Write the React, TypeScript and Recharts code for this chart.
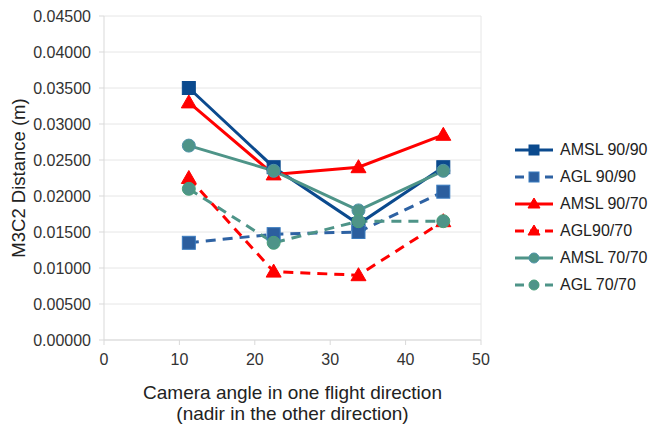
import React from 'react';
import { LineChart, Line, XAxis, YAxis, CartesianGrid, ReferenceLine, Label } from 'recharts';

document.body.style.margin = '0';

const angles = [11.25, 22.5, 33.75, 45];
const amsl9090 = [0.035, 0.024, 0.0161, 0.024];
const agl9090 = [0.0135, 0.0147, 0.015, 0.0206];
const amsl9070 = [0.033, 0.023, 0.024, 0.0285];
const agl9070 = [0.0225, 0.0095, 0.009, 0.0165];
const amsl7070 = [0.027, 0.0235, 0.018, 0.0235];
const agl7070 = [0.021, 0.0135, 0.0165, 0.0165];

const xTicks = [0, 10, 20, 30, 40, 50];
const yTicks = [0, 0.005, 0.01, 0.015, 0.02, 0.025, 0.03, 0.035, 0.04, 0.045];

const data = angles.map((x, i) => ({
  x,
  amsl9090: amsl9090[i],
  agl9090: agl9090[i],
  amsl9070: amsl9070[i],
  agl9070: agl9070[i],
  amsl7070: amsl7070[i],
  agl7070: agl7070[i],
}));

type Shape = 'square' | 'triangle' | 'circle';

interface SeriesDef {
  key: string;
  name: string;
  color: string;
  fill: string;
  edge: string;
  dashed: boolean;
  shape: Shape;
}

const series: SeriesDef[] = [
  { key: 'amsl9090', name: 'AMSL 90/90', color: '#0B4A8E', fill: '#0B4A8E', edge: '#0B4A8E', dashed: false, shape: 'square' },
  { key: 'agl9090', name: 'AGL 90/90', color: '#2E62A3', fill: '#2B5E9E', edge: '#3A7CC0', dashed: true, shape: 'square' },
  { key: 'amsl9070', name: 'AMSL 90/70', color: '#FF0000', fill: '#FF0000', edge: '#FF0000', dashed: false, shape: 'triangle' },
  { key: 'agl9070', name: 'AGL90/70', color: '#FF0000', fill: '#FF0000', edge: '#FF0000', dashed: true, shape: 'triangle' },
  { key: 'amsl7070', name: 'AMSL 70/70', color: '#4E9488', fill: '#4E9488', edge: '#4F93A8', dashed: false, shape: 'circle' },
  { key: 'agl7070', name: 'AGL 70/70', color: '#4E9488', fill: '#4E9488', edge: '#4AA07A', dashed: true, shape: 'circle' },
];

const Marker = ({ cx, cy, s, size }: { cx: number; cy: number; s: SeriesDef; size: number }) => {
  const h = size / 2;
  if (s.shape === 'square') {
    return <rect x={cx - h} y={cy - h} width={size} height={size} fill={s.fill} stroke={s.edge} strokeWidth={1} />;
  }
  if (s.shape === 'triangle') {
    const pts = `${cx},${cy - h - 1} ${cx + h + 1},${cy + h - 1} ${cx - h - 1},${cy + h - 1}`;
    return <polygon points={pts} fill={s.fill} stroke={s.edge} strokeWidth={1} />;
  }
  return <circle cx={cx} cy={cy} r={h} fill={s.fill} stroke={s.edge} strokeWidth={1} />;
};

const font = '"Liberation Sans", Arial, sans-serif';

const XTitle = (props: any) => {
  const vb = props.viewBox;
  const cx = vb.x + vb.width / 2;
  return (
    <text x={cx} y={vb.y + 59} textAnchor="middle" fontSize={19} fill="#222" fontFamily={font}>
      <tspan x={cx}>Camera angle in one flight direction</tspan>
      <tspan x={cx} dy={21}>(nadir in the other direction)</tspan>
    </text>
  );
};

const YTitle = (props: any) => {
  const vb = props.viewBox;
  const cy = vb.y + vb.height / 2;
  return (
    <text
      x={18}
      y={cy}
      transform={`rotate(-90, 18, ${cy})`}
      textAnchor="middle"
      dominantBaseline="central"
      fontSize={18.5}
      fill="#222"
      fontFamily={font}
    >
      M3C2 Distance (m)
    </text>
  );
};

const LegendBox = () => (
  <div style={{ position: 'absolute', left: 513, top: 136, fontFamily: font, fontSize: 16, color: '#222' }}>
    {series.map((s) => (
      <div key={s.key} style={{ display: 'flex', alignItems: 'center', height: 27 }}>
        <svg width={42} height={16} style={{ marginRight: 5 }}>
          <line x1={2} y1={8} x2={40} y2={8} stroke={s.color} strokeWidth={3} strokeDasharray={s.dashed ? '9 6' : undefined} />
          <Marker cx={21} cy={8} s={s} size={10} />
        </svg>
        <span>{s.name}</span>
      </div>
    ))}
  </div>
);

export default function App() {
  return (
    <div style={{ position: 'relative', width: 650, height: 428, background: '#fff' }}>
      <LineChart width={650} height={428} data={data} margin={{ top: 16, right: 169, bottom: 58, left: 0 }}>
        <CartesianGrid vertical={false} stroke="#e6e6e6" />
        <ReferenceLine x={50} stroke="#e6e6e6" />
        <XAxis
          dataKey="x"
          type="number"
          domain={[0, 50]}
          ticks={xTicks}
          stroke="#d9d9d9"
          tickSize={5}
          tickMargin={9}
          tick={{ fontSize: 16, fill: '#333', fontFamily: font }}
        >
          <Label content={<XTitle />} />
        </XAxis>
        <YAxis
          type="number"
          domain={[0, 0.045]}
          ticks={yTicks}
          width={104}
          stroke="#d9d9d9"
          tickSize={5}
          tickMargin={8}
          tickFormatter={(v: number) => v.toFixed(5)}
          tick={{ fontSize: 16, fill: '#333', fontFamily: font }}
        >
          <Label content={<YTitle />} />
        </YAxis>
        {series.map((s) => (
          <Line
            key={s.key}
            dataKey={s.key}
            name={s.name}
            type="linear"
            stroke={s.color}
            strokeWidth={3}
            strokeDasharray={s.dashed ? '10 7' : undefined}
            isAnimationActive={false}
            dot={(p: any) => <Marker key={`${s.key}-${p.index}`} cx={p.cx} cy={p.cy} s={s} size={13} />}
            activeDot={false}
          />
        ))}
      </LineChart>
      <LegendBox />
    </div>
  );
}
